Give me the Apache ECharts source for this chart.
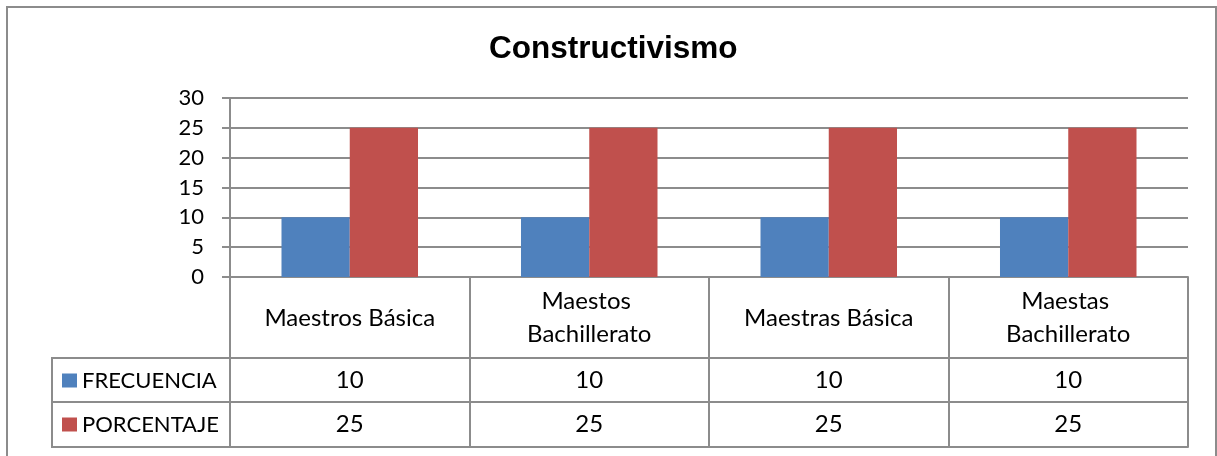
<!DOCTYPE html>
<html>
<head>
<meta charset="utf-8">
<script src="https://cdn.jsdelivr.net/npm/echarts@6/dist/echarts.min.js"></script>
<style>
  html, body { margin: 0; padding: 0; background: #ffffff; }
  #chart { width: 1217px; height: 456px; }
</style>
</head>
<body>
<div id="chart"></div>
<script>
// datos del grafico
const categories = [
  "Maestros Básica",
  "Maestos Bachillerato",
  "Maestras Básica",
  "Maestas Bachillerato",
];
const frecuencia = [10, 10, 10, 10];
const porcentaje = [25, 25, 25, 25];
const seriesNames = ["FRECUENCIA", "PORCENTAJE"];

const lineColor = "#8c8c8c";
const baseFont = "Lato";
const tableFontSize = 24;

// layout of the plot and the data table under it
const gridLeft = 230;
const gridRight = 29;
const gridTop = 98;
const gridBottom = 179; // zero line at y = 277
const zeroY = 456 - gridBottom;
const rowOffsets = [81, 125, 170]; // table row lines below the zero line
const headerLeft = 52;

const chart = echarts.init(document.getElementById("chart"));

// eje de categorias + filas de la tabla
const tableAxisBase = {
  type: "category",
  gridIndex: 0,
  position: "bottom",
  data: categories,
  axisLine: { show: true, lineStyle: { color: lineColor, width: 2 } },
  axisTick: { show: false },
  splitLine: { show: false },
};

const option = {
  animation: false,
  backgroundColor: "#ffffff",
  title: {
    text: "Constructivismo",
    left: 484,
    top: 28,
    textStyle: {
      fontFamily: "Liberation Sans",
      fontWeight: "bold",
      fontSize: 31.5,
      color: "#000000",
    },
  },
  legend: {
    orient: "vertical",
    left: 57,
    top: 364,
    itemWidth: 15,
    itemHeight: 14,
    itemGap: 21,
    icon: "rect",
    selectedMode: false,
    textStyle: { fontFamily: baseFont, fontSize: 22, color: "#000000", lineHeight: 23 },
    data: seriesNames,
  },
  grid: {
    left: gridLeft,
    right: gridRight,
    top: gridTop,
    bottom: gridBottom,
  },
  xAxis: [
    {
      ...tableAxisBase,
      axisTick: {
        show: true,
        length: rowOffsets[2],
        alignWithLabel: false,
        interval: 0,
        lineStyle: { color: lineColor, width: 2 },
      },
      axisLabel: {
        interval: 0,
        margin: 41,
        verticalAlign: "middle",
        fontFamily: baseFont,
        fontSize: tableFontSize,
        lineHeight: 33,
        color: "#000000",
        width: 200,
        overflow: "break",
      },
    },
    {
      ...tableAxisBase,
      offset: rowOffsets[0],
      axisLabel: {
        interval: 0,
        margin: 22,
        verticalAlign: "middle",
        fontFamily: baseFont,
        fontSize: tableFontSize,
        color: "#000000",
        formatter: (v, i) => String(frecuencia[i]),
      },
    },
    {
      ...tableAxisBase,
      offset: rowOffsets[1],
      axisLabel: {
        interval: 0,
        margin: 22,
        verticalAlign: "middle",
        fontFamily: baseFont,
        fontSize: tableFontSize,
        color: "#000000",
        formatter: (v, i) => String(porcentaje[i]),
      },
    },
    {
      ...tableAxisBase,
      offset: rowOffsets[2],
      axisLabel: { show: false },
    },
  ],
  yAxis: {
    type: "value",
    min: 0,
    max: 30,
    interval: 5,
    axisLine: { show: true, lineStyle: { color: lineColor, width: 2 } },
    axisTick: { show: true, length: 8, lineStyle: { color: lineColor, width: 2 } },
    axisLabel: {
      margin: 26,
      fontFamily: baseFont,
      fontSize: 22,
      color: "#000000",
    },
    splitLine: { show: true, lineStyle: { color: lineColor, width: 2 } },
  },
  series: [
    {
      name: seriesNames[0],
      type: "bar",
      data: frecuencia,
      barGap: "0%",
      barCategoryGap: "43%",
      itemStyle: { color: "#4f81bd" },
      z: 3,
    },
    {
      name: seriesNames[1],
      type: "bar",
      data: porcentaje,
      barGap: "0%",
      barCategoryGap: "43%",
      itemStyle: { color: "#c0504d" },
      z: 3,
    },
  ],
  graphic: [
    // marco exterior
    {
      type: "rect",
      shape: { x: 7, y: 7, width: 1209, height: 470 },
      style: { fill: "none", stroke: lineColor, lineWidth: 2 },
      silent: true,
    },
    // columna de leyenda de la tabla
    {
      type: "rect",
      shape: {
        x: headerLeft,
        y: zeroY + rowOffsets[0],
        width: gridLeft - headerLeft,
        height: rowOffsets[2] - rowOffsets[0],
      },
      style: { fill: "none", stroke: lineColor, lineWidth: 2 },
      silent: true,
    },
    {
      type: "line",
      shape: {
        x1: headerLeft,
        y1: zeroY + rowOffsets[1],
        x2: gridLeft,
        y2: zeroY + rowOffsets[1],
      },
      style: { stroke: lineColor, lineWidth: 2 },
      silent: true,
    },
  ],
};

chart.setOption(option);
</script>
</body>
</html>
